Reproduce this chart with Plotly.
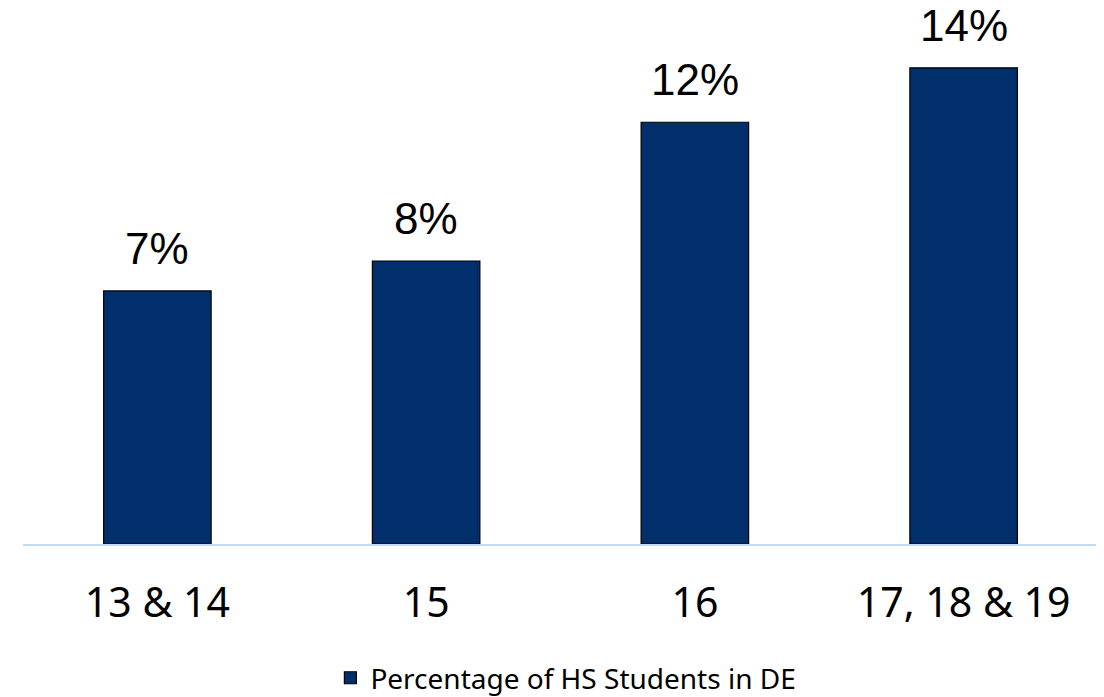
import plotly.graph_objects as go

categories = ["13 & 14", "15", "16", "17, 18 & 19"]
values = [0.0744, 0.0832, 0.124, 0.14]
series_name = "Percentage of HS Students in DE"

BAR_COLOR = "#002f6c"

fig = go.Figure()
fig.add_trace(go.Bar(
    x=categories, y=values, name=series_name,
    marker=dict(color=BAR_COLOR, line=dict(color="#000000", width=1.2)),
    width=0.4, showlegend=True,
))

for i, v in enumerate(values):
    fig.add_annotation(
        x=i, y=v, xref="x", yref="y", text=f"{v:.0%}", showarrow=False,
        yanchor="bottom", yshift=16,
        font=dict(family="Liberation Sans, Arial, sans-serif", size=44, color="#000000"),
    )

fig.update_layout(
    width=1104, height=697,
    margin=dict(l=15, r=14, t=2, b=161, autoexpand=False),
    paper_bgcolor="white", plot_bgcolor="white",
    showlegend=True,
    legend=dict(
        orientation="h", x=0.505, xanchor="center", y=-0.251, yanchor="middle",
        font=dict(family="Noto Sans, sans-serif", size=28, color="#000000"),
    ),
    xaxis=dict(
        type="category", range=[-0.5, 3.5], automargin=False, tickangle=0,
        showline=True, linecolor="#c6dbf3", linewidth=2,
        showgrid=False, ticks="", ticklabelstandoff=22,
        tickfont=dict(family="Noto Sans, sans-serif", size=41, color="#000000"),
    ),
    yaxis=dict(
        range=[0, 0.157], visible=False, showgrid=False, zeroline=False,
    ),
)

fig.write_html("out.html")
